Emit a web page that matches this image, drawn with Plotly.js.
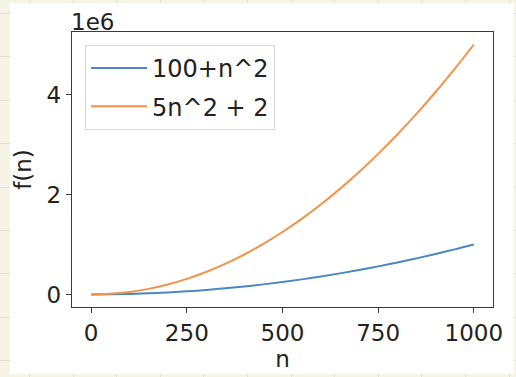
<!DOCTYPE html>
<html>
<head>
<meta charset="utf-8">
<script src="https://cdn.plot.ly/plotly-3.0.1.min.js"></script>
<style>
  html, body { margin: 0; padding: 0; }
  body {
    width: 516px; height: 377px; overflow: hidden; position: relative;
    background-color: #f6f4e7;
    background-image:
      repeating-linear-gradient(to right, transparent 0px, transparent 29px, #e4e1d2 29px, #e4e1d2 30px, transparent 30px, transparent 43.6px),
      repeating-linear-gradient(to bottom, transparent 0px, transparent 13px, #e4e1d2 13px, #e4e1d2 14px, transparent 14px, transparent 43.4px);
  }
  #chart { position: absolute; left: 10px; top: 3px; width: 504px; height: 371px; background: #fff; }
</style>
</head>
<body>
<div id="chart"></div>
<script>
// data
const n = [0, 50, 100, 150, 200, 250, 300, 350, 400, 450, 500, 550, 600, 650, 700, 750, 800, 850, 900, 950, 1000];
const seriesA = [100, 2600, 10100, 22600, 40100, 62600, 90100, 122600, 160100, 202600, 250100, 302600, 360100, 422600, 490100, 562600, 640100, 722600, 810100, 902600, 1000100];
const seriesB = [2, 12502, 50002, 112502, 200002, 312502, 450002, 612502, 800002, 1012502, 1250002, 1512502, 1800002, 2112502, 2450002, 2812502, 3200002, 3612502, 4050002, 4512502, 5000002];
const seriesNames = ["100+n^2", "5n^2 + 2"];
const xTicks = [0, 250, 500, 750, 1000];
const yTicks = [0, 2000000, 4000000];
const yTickText = ["0", "2", "4"];

const FONT = "DejaVu Sans, sans-serif";
const traces = [
  { x: n, y: seriesA, name: seriesNames[0], type: "scatter", mode: "lines", legendgroup: "a",
    line: { color: "#4a87c3", width: 2, shape: "spline" } },
  { x: n, y: seriesB, name: seriesNames[1], type: "scatter", mode: "lines", legendgroup: "b",
    line: { color: "#f3934a", width: 2, shape: "spline" } }
];

const axisCommon = {
  showgrid: false, zeroline: false, showline: true, mirror: true,
  linecolor: "#3a3a3a", linewidth: 1.2,
  ticks: "outside", ticklen: 5, tickwidth: 1.2, tickcolor: "#3a3a3a",
  tickfont: { family: FONT, size: 23, color: "#222" }
};

const layout = {
  width: 504, height: 371,
  margin: { l: 62, r: 21, t: 29, b: 67 },
  paper_bgcolor: "#ffffff", plot_bgcolor: "#ffffff",
  font: { family: FONT, color: "#222" },
  showlegend: true,
  xaxis: Object.assign({}, axisCommon, {
    range: [-50, 1050], tickvals: xTicks,
    title: { text: "n", font: { family: FONT, size: 23, color: "#222" }, standoff: 6 }
  }),
  yaxis: Object.assign({}, axisCommon, {
    range: [-250000, 5250002], tickvals: yTicks, ticktext: yTickText,
    title: { text: "f(n)", font: { family: FONT, size: 23, color: "#222" }, standoff: 8 }
  }),
  legend: {
    x: 0.031, y: 0.953, xanchor: "left", yanchor: "top",
    bgcolor: "rgba(255,255,255,0.9)", bordercolor: "#d6d6d6", borderwidth: 1,
    font: { family: FONT, size: 24, color: "#222" },
    traceorder: "grouped", tracegroupgap: 4, itemwidth: 56
  },
  annotations: [{
    text: "1e6", xref: "paper", yref: "paper", x: 0, y: 1, xanchor: "left", yanchor: "bottom",
    showarrow: false, font: { family: FONT, size: 23, color: "#222" }, xshift: -3, yshift: -5
  }]
};

Plotly.newPlot("chart", traces, layout, { displayModeBar: false, staticPlot: true });
</script>
</body>
</html>
